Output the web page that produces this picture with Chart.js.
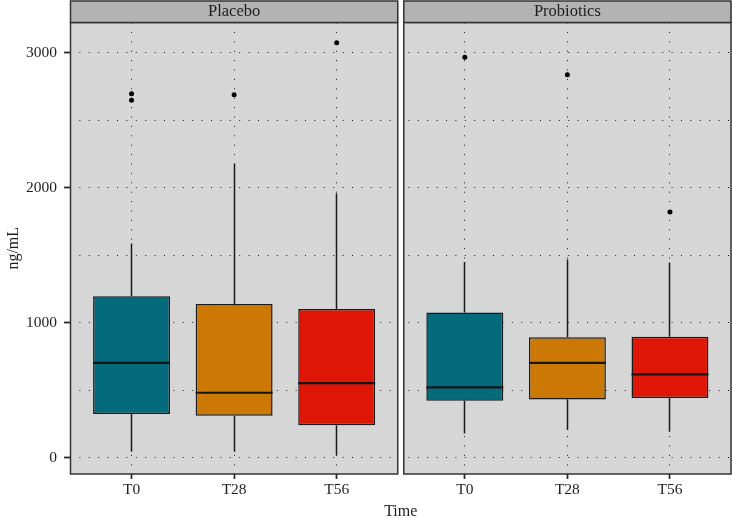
<!DOCTYPE html>
<html>
<head>
<meta charset="utf-8">
<script src="https://cdn.jsdelivr.net/npm/chart.js@4"></script>
<style>
  html, body { margin: 0; padding: 0; background: #ffffff; }
  #wrap { width: 732px; height: 518px; }
</style>
</head>
<body>
<div id="wrap"><canvas id="c" width="732" height="518"></canvas></div>
<script>
// ---- data ----
const categories = ['T0', 'T28', 'T56'];
const groups = ['Placebo', 'Probiotics'];

const placeboLower   = [44, 44, 20];
const placeboQ1      = [323, 311, 240];
const placeboMedian  = [703, 481, 553];
const placeboQ3      = [1197, 1138, 1101];
const placeboUpper   = [1587, 2179, 1957];
const placeboOutliers = [[2697, 2648], [2690], [3075]];

const probioticsLower   = [180, 205, 192];
const probioticsQ1      = [422, 432, 442];
const probioticsMedian  = [521, 703, 617];
const probioticsQ3      = [1076, 893, 896];
const probioticsUpper   = [1451, 1468, 1446];
const probioticsOutliers = [[2968], [2838], [1821]];

const yGridValues  = [0, 500, 1000, 1500, 2000, 2500, 3000];
const yLabelValues = [0, 1000, 2000, 3000];

// ---- layout helpers (not data) ----
const boxColors = ['#036b7b', '#cb7904', '#df1606'];
const panelSpan = 3.2;     // 3 categories + 0.6 expansion each side
const gapUnits = 0.049;    // white gap between facets
const xMin = 0.4;
const xMax = xMin + 2 * panelSpan + gapUnits;
const yMin = -121, yMax = 3225;
const FONT = "'Liberation Serif', 'DejaVu Serif', serif";
const TXT = '#1e1e1e';

const stats = [
  { lower: placeboLower, q1: placeboQ1, med: placeboMedian, q3: placeboQ3, upper: placeboUpper, out: placeboOutliers },
  { lower: probioticsLower, q1: probioticsQ1, med: probioticsMedian, q3: probioticsQ3, upper: probioticsUpper, out: probioticsOutliers }
];
function panelLeft(g) { return xMin + g * (panelSpan + gapUnits); }
function pos(g, i) { return panelLeft(g) + 0.6 + i; }

const boxes = [];
const outlierPts = [];
stats.forEach((s, g) => {
  categories.forEach((c, i) => {
    boxes.push({ x: pos(g, i), y: [s.q1[i], s.q3[i]], lower: s.lower[i], upper: s.upper[i], med: s.med[i], color: boxColors[i] });
    s.out[i].forEach(v => outlierPts.push({ x: pos(g, i), y: v }));
  });
});
const tickPositions = boxes.map(b => b.x);

function alignPx(p) { return Math.round(p - 0.5) + 0.5; }

const facetPlugin = {
  id: 'facet',
  beforeDraw(chart) {
    const { ctx, chartArea: a, scales: { x } } = chart;
    ctx.save();
    ctx.fillStyle = '#ffffff';
    ctx.fillRect(0, 0, chart.width, chart.height);
    groups.forEach((name, g) => {
      const x0 = x.getPixelForValue(panelLeft(g));
      const x1 = x.getPixelForValue(panelLeft(g) + panelSpan);
      ctx.fillStyle = '#d6d6d6';
      ctx.fillRect(x0, a.top, x1 - x0, a.bottom - a.top);
    });
    ctx.restore();
  },
  beforeDatasetsDraw(chart) {
    const { ctx, chartArea: a, scales: { x, y } } = chart;
    ctx.save();
    // white gap between the facets
    const gx0 = x.getPixelForValue(panelLeft(0) + panelSpan);
    const gx1 = x.getPixelForValue(panelLeft(1));
    ctx.fillStyle = '#ffffff';
    ctx.fillRect(gx0, 0, gx1 - gx0, a.bottom);
    // panel borders and strips
    groups.forEach((name, g) => {
      const x0 = x.getPixelForValue(panelLeft(g));
      const x1 = x.getPixelForValue(panelLeft(g) + panelSpan);
      ctx.strokeStyle = '#333333';
      ctx.lineWidth = 1.5;
      ctx.strokeRect(x0 + 0.5, a.top, x1 - x0 - 1, a.bottom - a.top);
      ctx.fillStyle = '#b3b3b3';
      ctx.fillRect(x0, 1, x1 - x0, a.top - 1);
      ctx.strokeRect(x0 + 0.5, 1, x1 - x0 - 1, a.top - 1);
      ctx.fillStyle = TXT;
      ctx.font = "16.5px " + FONT;
      ctx.textAlign = 'center';
      ctx.textBaseline = 'middle';
      ctx.fillText(name, (x0 + x1) / 2, 11.8);
    });
    // whiskers
    ctx.strokeStyle = '#1a1a1a';
    ctx.lineWidth = 1.5;
    boxes.forEach(b => {
      const px = alignPx(x.getPixelForValue(b.x));
      ctx.beginPath();
      ctx.moveTo(px, y.getPixelForValue(b.y[1]));
      ctx.lineTo(px, y.getPixelForValue(b.upper));
      ctx.moveTo(px, y.getPixelForValue(b.y[0]));
      ctx.lineTo(px, y.getPixelForValue(b.lower));
      ctx.stroke();
    });
    ctx.restore();
  },
  afterDatasetsDraw(chart) {
    const { ctx, scales: { y } } = chart;
    const meta = chart.getDatasetMeta(0);
    ctx.save();
    ctx.strokeStyle = '#151515';
    ctx.lineWidth = 2.2;
    boxes.forEach((b, i) => {
      const el = meta.data[i];
      const py = y.getPixelForValue(b.med);
      ctx.beginPath();
      ctx.moveTo(el.x - el.width / 2, py);
      ctx.lineTo(el.x + el.width / 2, py);
      ctx.stroke();
    });
    ctx.restore();
  },
  afterDraw(chart) {
    // axis tick marks at the scale's own tick positions
    const { ctx, chartArea: a, scales: { x, y } } = chart;
    ctx.save();
    ctx.strokeStyle = '#2a2a2a';
    ctx.lineWidth = 1.4;
    ctx.setLineDash([]);
    ctx.beginPath();
    y.ticks.forEach(t => {
      if (!yLabelValues.includes(t.value)) return;
      const py = alignPx(y.getPixelForValue(t.value));
      ctx.moveTo(a.left - 6, py);
      ctx.lineTo(a.left, py);
    });
    x.ticks.forEach(t => {
      const px = alignPx(x.getPixelForValue(t.value));
      ctx.moveTo(px, a.bottom);
      ctx.lineTo(px, a.bottom + 5);
    });
    ctx.stroke();
    ctx.restore();
  }
};

new Chart(document.getElementById('c'), {
  type: 'bar',
  data: {
    datasets: [
      {
        type: 'bar',
        data: boxes.map(b => ({ x: b.x, y: b.y })),
        backgroundColor: boxes.map(b => b.color),
        borderColor: '#1a1a1a',
        borderWidth: 1.5,
        borderSkipped: false,
        barPercentage: 0.75,
        categoryPercentage: 1
      },
      {
        type: 'scatter',
        data: outlierPts,
        pointRadius: 2.5,
        pointBackgroundColor: '#000000',
        pointBorderWidth: 0
      }
    ]
  },
  options: {
    responsive: false,
    devicePixelRatio: 1,
    animation: false,
    events: [],
    layout: { padding: { top: 22.5, right: 0.5, bottom: 0, left: 0 }, autoPadding: false },
    plugins: { legend: { display: false }, tooltip: { enabled: false } },
    scales: {
      x: {
        type: 'linear',
        offset: false,
        min: xMin,
        max: xMax,
        afterBuildTicks: s => { s.ticks = tickPositions.map(v => ({ value: v })); },
        afterFit: s => { s.height = 44; },
        ticks: {
          autoSkip: false, maxRotation: 0, padding: 2, color: TXT,
          font: { family: FONT, size: 15.5 },
          callback: (v, i) => categories[i % categories.length]
        },
        grid: { offset: false, color: '#1a1a1a', tickLength: 5, tickColor: '#2a2a2a', tickWidth: 1.4, tickBorderDash: [] },
        border: { display: false, dash: [1, 8.4] },
        title: { display: true, text: 'Time', color: TXT, font: { family: FONT, size: 16, lineHeight: 0.8 }, padding: 0 }
      },
      y: {
        min: yMin,
        max: yMax,
        afterBuildTicks: s => { s.ticks = yGridValues.map(v => ({ value: v })); },
        afterFit: s => { s.width = 70; },
        ticks: {
          padding: 7, color: TXT,
          font: { family: FONT, size: 15.5 },
          callback: v => yLabelValues.includes(v) ? String(v) : ''
        },
        grid: {
          color: '#1a1a1a', tickLength: 6, tickWidth: 1.4, tickBorderDash: [],
          tickColor: c => (c.tick && yLabelValues.includes(c.tick.value)) ? '#2a2a2a' : 'rgba(0,0,0,0)'
        },
        border: { display: false, dash: [1, 8.4] },
        title: { display: true, text: 'ng/mL', color: TXT, font: { family: FONT, size: 16 }, padding: { top: 4, bottom: 0 } }
      }
    }
  },
  plugins: [facetPlugin]
});
</script>
</body>
</html>
